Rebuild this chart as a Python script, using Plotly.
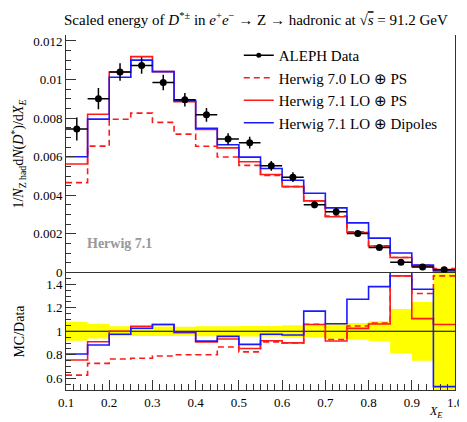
import plotly.graph_objects as go

# bin edges in X_E
edges = [0.1, 0.15, 0.2, 0.25, 0.3, 0.35, 0.4, 0.45, 0.5, 0.55, 0.6,
         0.65, 0.7, 0.75, 0.8, 0.85, 0.9, 0.95, 1.0]

# ALEPH data and its uncertainty
data = [0.00744, 0.00901, 0.01039, 0.01073, 0.00985, 0.00896, 0.00817, 0.00692, 0.00673,
        0.00553, 0.00494, 0.00351, 0.00315, 0.00202, 0.00129, 0.00053, 0.00028, 0.00014]
data_err = [0.0006, 0.00055, 0.00045, 0.00043, 0.0004, 0.00035, 0.00035, 0.0003, 0.0003,
            0.00025, 0.00025, 0.00018, 0.0002, 0.00014, 0.00011, 0.0001, 0.00007, 0.0001]

# Monte Carlo predictions
h70_ps = [0.00466, 0.00655, 0.00794, 0.00826, 0.00778, 0.00717, 0.00654, 0.00599, 0.00555,
          0.00503, 0.00445, 0.00372, 0.00293, 0.00211, 0.00138, 0.00078, 0.00037, 0.000206]
h71_ps = [0.00562, 0.0082, 0.01039, 0.01119, 0.01041, 0.00885, 0.00742, 0.00646, 0.00574,
          0.00508, 0.00445, 0.00371, 0.00289, 0.00207, 0.00137, 0.00078, 0.00031, 0.000148]
h71_dip = [0.0060, 0.00795, 0.01012, 0.01101, 0.01041, 0.00891, 0.00748, 0.00662, 0.00598,
           0.00539, 0.00478, 0.00411, 0.00335, 0.00257, 0.00178, 0.00101, 0.00038, 0.000074]

x_ticks = [0.1, 0.2, 0.3, 0.4, 0.5, 0.6, 0.7, 0.8, 0.9, 1.0]
x_labels = ["0.1", "0.2", "0.3", "0.4", "0.5", "0.6", "0.7", "0.8", "0.9", "1.0"]

RED = "#ff1a1a"
BLUE = "#1a1aff"
FONT = "Liberation Serif"


def step(vals):
    # repeat last value so the 'hv' line reaches the final edge
    return list(vals) + [vals[-1]]


centers = [(a + b) / 2 for a, b in zip(edges[:-1], edges[1:])]
half = [(b - a) / 2 for a, b in zip(edges[:-1], edges[1:])]
rel = [e / d for e, d in zip(data_err, data)]

fig = go.Figure()

mc = [
    ("Herwig 7.0 LO ⊕ PS", h70_ps, RED, "6px,4px"),
    ("Herwig 7.1 LO ⊕ PS", h71_ps, RED, "solid"),
    ("Herwig 7.1 LO ⊕ Dipoles", h71_dip, BLUE, "solid"),
]

# main panel
fig.add_trace(go.Scatter(x=[None], y=[None], mode="lines+markers", name="ALEPH Data",
                         line=dict(color="black", width=1.5),
                         marker=dict(color="black", size=5), xaxis="x", yaxis="y2"))
for name, vals, col, dash in mc:
    fig.add_trace(go.Scatter(x=edges, y=step(vals), mode="lines", line_shape="hv",
                             name=name, line=dict(color=col, width=1.6, dash=dash),
                             xaxis="x", yaxis="y2"))
fig.add_trace(go.Scatter(x=centers, y=data, mode="markers", showlegend=False,
                         marker=dict(color="black", size=7),
                         error_y=dict(array=data_err, color="black", thickness=1.5, width=0),
                         error_x=dict(array=half, color="black", thickness=1.5, width=0),
                         xaxis="x", yaxis="y2"))

# ratio panel
fig.add_trace(go.Scatter(x=edges, y=step([1 - r for r in rel]), mode="lines", line_shape="hv",
                         line=dict(width=0), showlegend=False, hoverinfo="skip"))
fig.add_trace(go.Scatter(x=edges, y=step([1 + r for r in rel]), mode="lines", line_shape="hv",
                         line=dict(width=0), fill="tonexty", fillcolor="#ffff00",
                         showlegend=False, hoverinfo="skip"))
fig.add_trace(go.Scatter(x=[edges[0], edges[-1]], y=[1, 1], mode="lines",
                         line=dict(color="black", width=1), showlegend=False))
for name, vals, col, dash in mc:
    ratio = [v / d for v, d in zip(vals, data)]
    fig.add_trace(go.Scatter(x=edges, y=step(ratio), mode="lines", line_shape="hv",
                             line=dict(color=col, width=1.6, dash=dash), showlegend=False))

split = 117.5 / 355
axis_common = dict(showline=True, linecolor="#333", linewidth=1, mirror=True,
                   ticks="inside", tickcolor="#333", showgrid=False, zeroline=False,
                   tickfont=dict(family=FONT, size=13, color="black"))

fig.update_layout(
    width=467, height=422,
    margin=dict(l=58, r=15, t=27, b=40),
    paper_bgcolor="white", plot_bgcolor="white",
    font=dict(family=FONT, color="black"),
    title=dict(text="Scaled energy of <i>D</i><sup>*±</sup> in <i>e</i><sup>+</sup><i>e</i><sup>−</sup>"
                    " → Z → hadronic at √<span style='text-decoration:overline'><i>s</i></span> = 91.2 GeV",
               x=56 / 467, xanchor="left", y=1 - 12 / 422, yanchor="middle",
               font=dict(family=FONT, size=15)),
    xaxis=dict(range=[0.1, 1.0], domain=[0, 1], anchor="y",
               tickvals=x_ticks, ticktext=x_labels,
               ticklen=10, minor=dict(dtick=0.1 / 6, ticklen=6, ticks="inside", tickcolor="#333"),
               **axis_common),
    yaxis=dict(range=[0.5, 1.5], domain=[0, split], anchor="x",
               dtick=0.2, tick0=0.6, ticklen=10,
               minor=dict(dtick=0.05, ticklen=5, ticks="inside", tickcolor="#333"),
               **axis_common),
    xaxis2=dict(range=[0.1, 1.0], anchor="y2", matches="x", showticklabels=False,
                tickvals=x_ticks,
                ticklen=10, minor=dict(dtick=0.1 / 6, ticklen=6, ticks="inside", tickcolor="#333"),
                **axis_common),
    yaxis2=dict(range=[0, 0.01231], domain=[split, 1], anchor="x",
                dtick=0.002, ticklen=10,
                minor=dict(dtick=0.0005, ticklen=5, ticks="inside", tickcolor="#333"),
                **axis_common),
    legend=dict(x=(233 - 58) / 394, y=(382 - 31) / 355, xanchor="left", yanchor="top",
                bgcolor="rgba(0,0,0,0)", font=dict(family=FONT, size=15),
                itemwidth=30, tracegroupgap=0, traceorder="normal"),
    annotations=[
        dict(text="1/<i>N</i><sub>Z had</sub>d<i>N</i>(<i>D</i><sup>*</sup>)/d<i>X</i><sub><i>E</i></sub>",
             xref="paper", yref="paper", x=(10 - 58) / 394, y=(382 - 146) / 355,
             xanchor="center", yanchor="middle",
             textangle=-90, showarrow=False, font=dict(family=FONT, size=14)),
        dict(text="MC/Data", xref="paper", yref="paper", x=(10 - 58) / 394, y=(382 - 323) / 355,
             xanchor="center", yanchor="middle",
             textangle=-90, showarrow=False, font=dict(family=FONT, size=14)),
        dict(text="<i>X</i><sub><i>E</i></sub>", xref="paper", yref="paper",
             x=(432 - 58) / 394, y=(382 - 404) / 355, xanchor="center", yanchor="middle",
             showarrow=False, font=dict(family=FONT, size=12)),
        dict(text="<b>Herwig 7.1</b>", xref="paper", yref="paper",
             x=(77 - 58) / 394, y=(382 - 235) / 355, xanchor="left", yanchor="middle",
             showarrow=False, font=dict(family=FONT, size=14, color="#999999")),
    ],
)

fig.write_html("out.html")
